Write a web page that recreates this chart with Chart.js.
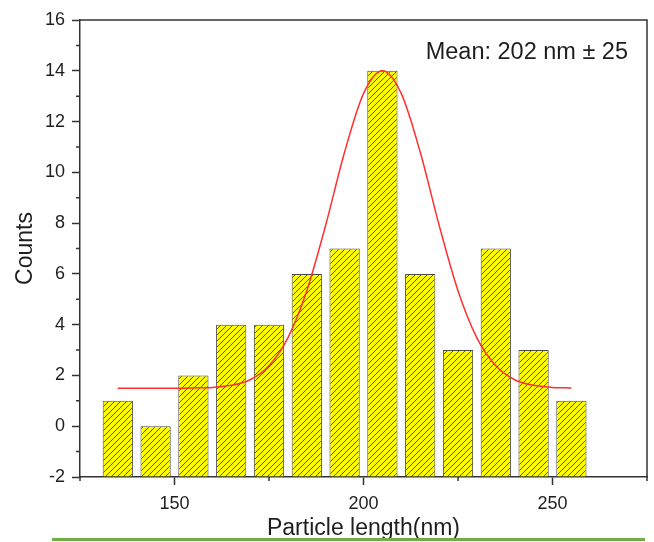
<!DOCTYPE html>
<html>
<head>
<meta charset="utf-8">
<script src="https://cdn.jsdelivr.net/npm/chart.js@4/dist/chart.umd.min.js"></script>
<style>
  html, body { margin: 0; padding: 0; background: #fff; }
  #contenedor { position: relative; width: 654px; height: 542px; }
  #separador { position: absolute; left: 52px; top: 538px; width: 593px; height: 3px; background: #70ad47; }
</style>
</head>
<body>
<div id="contenedor">
  <canvas id="histograma" width="654" height="542"></canvas>
  <div id="separador"></div>
</div>
<script>
/** 1. DATOS **/
const centrosBins = [135, 145, 155, 165, 175, 185, 195, 205, 215, 225, 235, 245, 255];
const conteos = [1, 0, 2, 4, 4, 6, 7, 14, 6, 3, 7, 3, 1];

// curva de ajuste
const ajusteX = [135, 140, 145, 150, 155, 160, 165, 170, 175, 180, 185, 190, 195, 200, 205,
                 210, 215, 220, 225, 230, 235, 240, 245, 250, 255];
const ajusteY = [1.5, 1.5, 1.5, 1.5, 1.51, 1.53, 1.61, 1.83, 2.38, 3.48, 5.34, 7.92, 10.8, 13.1, 14.0,
                 13.1, 10.8, 7.92, 5.34, 3.48, 2.38, 1.83, 1.61, 1.53, 1.51];

const ticksX = [150, 200, 250];
const ticksXMenores = [125, 175, 225, 275];
const ticksYMenores = [-1, 1, 3, 5, 7, 9, 11, 13, 15];
const textoMedia = 'Mean: 202 nm ± 25';

const FUENTE = '"Liberation Sans", Arial, sans-serif';
const COLOR_EJE = '#333';
const COLOR_TEXTO = '#1e1e1e';

/** 2. TRAMA RAYADA DE LAS BARRAS **/
function crearTrama() {
    const t = 6;
    const c = document.createElement('canvas');
    c.width = t; c.height = t;
    const g = c.getContext('2d');
    g.fillStyle = '#ffff00';
    g.fillRect(0, 0, t, t);
    g.strokeStyle = '#5a5a24';
    g.lineWidth = 1;
    g.beginPath();
    g.moveTo(0, t); g.lineTo(t, 0);
    g.moveTo(-1, 1); g.lineTo(1, -1);
    g.moveTo(t - 1, t + 1); g.lineTo(t + 1, t - 1);
    g.stroke();
    return g.createPattern(c, 'repeat');
}

/** 3. MARCO, TICKS MENORES Y TEXTO **/
const marco = {
    id: 'marco',
    afterDraw(chart) {
        const { ctx, chartArea: a, scales: { x, y } } = chart;
        ctx.save();
        ctx.strokeStyle = COLOR_EJE;
        ctx.lineWidth = 1.5;
        ctx.beginPath();
        ctx.moveTo(a.left, a.top);
        ctx.lineTo(a.right, a.top);
        ctx.lineTo(a.right, a.bottom);
        ticksYMenores.forEach(v => {
            const py = y.getPixelForValue(v);
            ctx.moveTo(a.left - 4, py); ctx.lineTo(a.left, py);
        });
        ticksXMenores.forEach(v => {
            const px = x.getPixelForValue(v);
            ctx.moveTo(px, a.bottom); ctx.lineTo(px, a.bottom + 4);
        });
        ctx.stroke();

        ctx.fillStyle = COLOR_TEXTO;
        ctx.font = '23.5px ' + FUENTE;
        ctx.textAlign = 'right';
        ctx.textBaseline = 'middle';
        ctx.fillText(textoMedia, a.right - 19, a.top + 33);
        ctx.restore();
    }
};

/** 4. GRAFICO **/
const ejeComun = {
    grid: { display: true, drawOnChartArea: false, drawTicks: true, tickLength: 8, tickColor: COLOR_EJE, tickWidth: 1.5 },
    border: { display: true, color: COLOR_EJE, width: 1.5 }
};

new Chart(document.getElementById('histograma'), {
    type: 'bar',
    data: {
        datasets: [
            {
                type: 'line',
                data: ajusteX.map((x, i) => ({ x, y: ajusteY[i] })),
                borderColor: '#ff3030',
                borderWidth: 1.5,
                pointRadius: 0,
                cubicInterpolationMode: 'monotone',
                order: 0
            },
            {
                type: 'bar',
                data: centrosBins.map((x, i) => ({ x, y: conteos[i] })),
                base: -2,
                backgroundColor: crearTrama(),
                borderColor: '#4a4a4a',
                borderWidth: 1,
                barPercentage: 0.8,
                categoryPercentage: 1,
                order: 1
            }
        ]
    },
    options: {
        responsive: false,
        animation: false,
        layout: { padding: { top: 20, right: 7, left: 0, bottom: 0 } },
        plugins: { legend: { display: false }, tooltip: { enabled: false } },
        scales: {
            x: {
                type: 'linear',
                min: 125, max: 275,
                offset: false,
                ...ejeComun,
                grid: { ...ejeComun.grid, offset: false },
                afterBuildTicks: s => { s.ticks = ticksX.map(v => ({ value: v })); },
                afterFit: s => { s.height = 65; },
                ticks: { color: COLOR_TEXTO, font: { family: FUENTE, size: 18 }, padding: 8, maxRotation: 0 },
                title: { display: true, text: 'Particle length(nm)', color: COLOR_TEXTO,
                         font: { family: FUENTE, size: 23 }, padding: { top: 0, bottom: 0 } }
            },
            y: {
                min: -2, max: 16,
                ...ejeComun,
                afterFit: s => { s.width = 80; },
                ticks: { stepSize: 2, color: COLOR_TEXTO, font: { family: FUENTE, size: 18 }, padding: 7 },
                title: { display: true, text: 'Counts', color: COLOR_TEXTO,
                         font: { family: FUENTE, size: 23 }, padding: { top: 12, bottom: 0 } }
            }
        }
    },
    plugins: [marco]
});
</script>
</body>
</html>
